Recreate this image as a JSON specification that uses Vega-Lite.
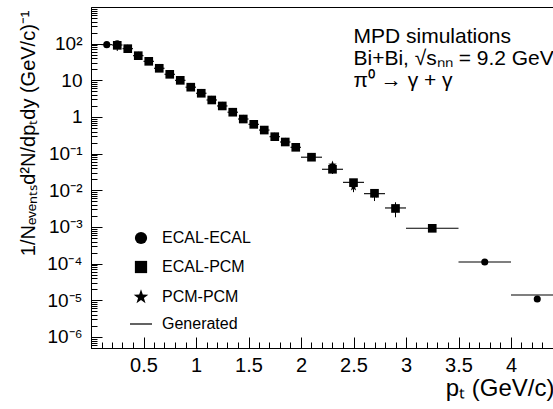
{
  "$schema": "https://vega.github.io/schema/vega-lite/v6.json",
  "autosize": {"type": "none"},
  "padding": {"left": 91, "top": 7, "right": 0, "bottom": 61},
  "width": 462,
  "height": 341,
  "background": "white",
  "datasets": {
    "gen": [
      {"lo": 0.1, "hi": 0.2, "v": 94}, {"lo": 0.2, "hi": 0.3, "v": 92}, {"lo": 0.3, "hi": 0.4, "v": 73},
      {"lo": 0.4, "hi": 0.5, "v": 47}, {"lo": 0.5, "hi": 0.6, "v": 33}, {"lo": 0.6, "hi": 0.7, "v": 21.3},
      {"lo": 0.7, "hi": 0.8, "v": 14.6}, {"lo": 0.8, "hi": 0.9, "v": 10.0}, {"lo": 0.9, "hi": 1.0, "v": 6.5},
      {"lo": 1.0, "hi": 1.1, "v": 4.44}, {"lo": 1.1, "hi": 1.2, "v": 2.91}, {"lo": 1.2, "hi": 1.3, "v": 2.0},
      {"lo": 1.3, "hi": 1.4, "v": 1.35}, {"lo": 1.4, "hi": 1.5, "v": 0.88}, {"lo": 1.5, "hi": 1.6, "v": 0.63},
      {"lo": 1.6, "hi": 1.7, "v": 0.44}, {"lo": 1.7, "hi": 1.8, "v": 0.29}, {"lo": 1.8, "hi": 1.9, "v": 0.208},
      {"lo": 1.9, "hi": 2.0, "v": 0.149}, {"lo": 2.0, "hi": 2.2, "v": 0.080}, {"lo": 2.2, "hi": 2.4, "v": 0.0375},
      {"lo": 2.4, "hi": 2.6, "v": 0.0165}, {"lo": 2.6, "hi": 2.8, "v": 0.0081}, {"lo": 2.8, "hi": 3.0, "v": 0.0033},
      {"lo": 3.0, "hi": 3.5, "v": 0.00092}, {"lo": 3.5, "hi": 4.0, "v": 0.000111}, {"lo": 4.0, "hi": 4.5, "v": 0.000014}
    ],
    "errs": [
      {"pt": 0.25, "lo": 63, "hi": 113}, {"pt": 0.35, "lo": 66, "hi": 80}, {"pt": 0.45, "lo": 43, "hi": 52},
      {"pt": 0.55, "lo": 30, "hi": 36.5}, {"pt": 0.65, "lo": 19.3, "hi": 23.5}, {"pt": 0.75, "lo": 13.2, "hi": 16.1},
      {"pt": 0.85, "lo": 9.0, "hi": 11.1}, {"pt": 0.95, "lo": 5.9, "hi": 7.2}, {"pt": 1.05, "lo": 4.0, "hi": 4.9},
      {"pt": 1.15, "lo": 2.63, "hi": 3.2}, {"pt": 1.25, "lo": 1.8, "hi": 2.2}, {"pt": 1.35, "lo": 1.22, "hi": 1.49},
      {"pt": 1.45, "lo": 0.79, "hi": 0.97}, {"pt": 1.55, "lo": 0.57, "hi": 0.7}, {"pt": 1.65, "lo": 0.40, "hi": 0.49},
      {"pt": 1.75, "lo": 0.26, "hi": 0.32}, {"pt": 1.85, "lo": 0.186, "hi": 0.23}, {"pt": 1.95, "lo": 0.134, "hi": 0.165},
      {"pt": 2.1, "lo": 0.068, "hi": 0.092}, {"pt": 2.3, "lo": 0.0279, "hi": 0.0543}, {"pt": 2.5, "lo": 0.0089, "hi": 0.0185},
      {"pt": 2.7, "lo": 0.0051, "hi": 0.0095}, {"pt": 2.9, "lo": 0.00184, "hi": 0.00472}, {"pt": 3.25, "lo": 0.00083, "hi": 0.00101}
    ],
    "pts": [
      {"series": "ECAL-ECAL", "pt": 0.15, "v": 94}, {"series": "ECAL-ECAL", "pt": 0.25, "v": 99},
      {"series": "ECAL-ECAL", "pt": 0.35, "v": 73}, {"series": "ECAL-ECAL", "pt": 0.45, "v": 47},
      {"series": "ECAL-ECAL", "pt": 0.55, "v": 33}, {"series": "ECAL-ECAL", "pt": 0.65, "v": 21.3},
      {"series": "ECAL-ECAL", "pt": 0.75, "v": 14.6}, {"series": "ECAL-ECAL", "pt": 0.85, "v": 10.0},
      {"series": "ECAL-ECAL", "pt": 0.95, "v": 6.5}, {"series": "ECAL-ECAL", "pt": 1.05, "v": 4.44},
      {"series": "ECAL-ECAL", "pt": 1.15, "v": 2.91}, {"series": "ECAL-ECAL", "pt": 1.25, "v": 2.0},
      {"series": "ECAL-ECAL", "pt": 1.35, "v": 1.35}, {"series": "ECAL-ECAL", "pt": 1.45, "v": 0.88},
      {"series": "ECAL-ECAL", "pt": 1.55, "v": 0.63}, {"series": "ECAL-ECAL", "pt": 1.65, "v": 0.44},
      {"series": "ECAL-ECAL", "pt": 1.75, "v": 0.29}, {"series": "ECAL-ECAL", "pt": 1.85, "v": 0.208},
      {"series": "ECAL-ECAL", "pt": 1.95, "v": 0.149}, {"series": "ECAL-ECAL", "pt": 2.1, "v": 0.080},
      {"series": "ECAL-ECAL", "pt": 2.3, "v": 0.0375}, {"series": "ECAL-ECAL", "pt": 2.5, "v": 0.0162},
      {"series": "ECAL-ECAL", "pt": 2.7, "v": 0.0083}, {"series": "ECAL-ECAL", "pt": 2.9, "v": 0.0032},
      {"series": "ECAL-ECAL", "pt": 3.25, "v": 0.00092}, {"series": "ECAL-ECAL", "pt": 3.75, "v": 0.000111},
      {"series": "ECAL-ECAL", "pt": 4.25, "v": 0.0000109},
      {"series": "PCM-PCM", "pt": 0.35, "v": 73}, {"series": "PCM-PCM", "pt": 0.45, "v": 47},
      {"series": "PCM-PCM", "pt": 0.55, "v": 33}, {"series": "PCM-PCM", "pt": 0.65, "v": 21.3},
      {"series": "PCM-PCM", "pt": 0.75, "v": 14.6}, {"series": "PCM-PCM", "pt": 0.85, "v": 10.0},
      {"series": "PCM-PCM", "pt": 0.95, "v": 6.5}, {"series": "PCM-PCM", "pt": 1.05, "v": 4.44},
      {"series": "PCM-PCM", "pt": 1.15, "v": 2.91}, {"series": "PCM-PCM", "pt": 1.25, "v": 2.0},
      {"series": "PCM-PCM", "pt": 1.35, "v": 1.35}, {"series": "PCM-PCM", "pt": 1.45, "v": 0.88},
      {"series": "PCM-PCM", "pt": 1.55, "v": 0.63}, {"series": "PCM-PCM", "pt": 1.65, "v": 0.44},
      {"series": "PCM-PCM", "pt": 1.75, "v": 0.29}, {"series": "PCM-PCM", "pt": 1.85, "v": 0.208},
      {"series": "PCM-PCM", "pt": 1.95, "v": 0.149}, {"series": "PCM-PCM", "pt": 2.1, "v": 0.080},
      {"series": "PCM-PCM", "pt": 2.3, "v": 0.049}, {"series": "PCM-PCM", "pt": 2.5, "v": 0.0123},
      {"series": "PCM-PCM", "pt": 2.7, "v": 0.0078}, {"series": "PCM-PCM", "pt": 2.9, "v": 0.0032},
      {"series": "ECAL-PCM", "pt": 0.25, "v": 90}, {"series": "ECAL-PCM", "pt": 0.35, "v": 73},
      {"series": "ECAL-PCM", "pt": 0.45, "v": 47}, {"series": "ECAL-PCM", "pt": 0.55, "v": 33},
      {"series": "ECAL-PCM", "pt": 0.65, "v": 21.3}, {"series": "ECAL-PCM", "pt": 0.75, "v": 14.6},
      {"series": "ECAL-PCM", "pt": 0.85, "v": 10.0}, {"series": "ECAL-PCM", "pt": 0.95, "v": 6.5},
      {"series": "ECAL-PCM", "pt": 1.05, "v": 4.44}, {"series": "ECAL-PCM", "pt": 1.15, "v": 2.91},
      {"series": "ECAL-PCM", "pt": 1.25, "v": 2.0}, {"series": "ECAL-PCM", "pt": 1.35, "v": 1.35},
      {"series": "ECAL-PCM", "pt": 1.45, "v": 0.88}, {"series": "ECAL-PCM", "pt": 1.55, "v": 0.63},
      {"series": "ECAL-PCM", "pt": 1.65, "v": 0.44}, {"series": "ECAL-PCM", "pt": 1.75, "v": 0.29},
      {"series": "ECAL-PCM", "pt": 1.85, "v": 0.208}, {"series": "ECAL-PCM", "pt": 1.95, "v": 0.149},
      {"series": "ECAL-PCM", "pt": 2.1, "v": 0.080}, {"series": "ECAL-PCM", "pt": 2.3, "v": 0.0375},
      {"series": "ECAL-PCM", "pt": 2.5, "v": 0.0162}, {"series": "ECAL-PCM", "pt": 2.7, "v": 0.0083},
      {"series": "ECAL-PCM", "pt": 2.9, "v": 0.0032}, {"series": "ECAL-PCM", "pt": 3.25, "v": 0.00092}
    ],
    "notes": [
      {"text": ["MPD simulations", "Bi+Bi, √sₙₙ = 9.2 GeV", "π⁰ → γ + γ"]}
    ]
  },
  "layer": [
    {
      "data": {"name": "gen"},
      "mark": {"type": "rule", "color": "black", "strokeWidth": 1.1, "clip": true},
      "encoding": {
        "x": {"field": "lo", "type": "quantitative",
              "scale": {"domain": [0, 4.4], "nice": false, "zero": false},
              "axis": {"orient": "bottom", "title": null, "labels": false, "tickSize": -6,
                       "values": [0.1,0.2,0.3,0.4,0.6,0.7,0.8,0.9,1.1,1.2,1.3,1.4,1.6,1.7,1.8,1.9,2.1,2.2,2.3,2.4,2.6,2.7,2.8,2.9,3.1,3.2,3.3,3.4,3.6,3.7,3.8,3.9,4.1,4.2,4.3,4.4]}},
        "x2": {"field": "hi"},
        "y": {"field": "v", "type": "quantitative",
              "scale": {"type": "log", "domain": [5e-7, 1000], "nice": false},
              "axis": {"orient": "left", "title": null, "labels": false, "tickSize": -6,
                       "values": [5e-7,6e-7,7e-7,8e-7,9e-7,2e-6,3e-6,4e-6,5e-6,6e-6,7e-6,8e-6,9e-6,2e-5,3e-5,4e-5,5e-5,6e-5,7e-5,8e-5,9e-5,2e-4,3e-4,4e-4,5e-4,6e-4,7e-4,8e-4,9e-4,2e-3,3e-3,4e-3,5e-3,6e-3,7e-3,8e-3,9e-3,0.02,0.03,0.04,0.05,0.06,0.07,0.08,0.09,0.2,0.3,0.4,0.5,0.6,0.7,0.8,0.9,2,3,4,5,6,7,8,9,20,30,40,50,60,70,80,90,200,300,400,500,600,700,800,900]}}
      }
    },
    {
      "data": {"name": "errs"},
      "mark": {"type": "rule", "color": "black", "strokeWidth": 1},
      "encoding": {
        "x": {"field": "pt", "type": "quantitative",
              "scale": {"domain": [0, 4.4], "nice": false, "zero": false},
              "axis": {"orient": "bottom", "values": [0.5,1,1.5,2,2.5,3,3.5,4], "format": "~g",
                       "tickSize": -11, "labelPadding": 18, "labelFontSize": 20, "labelFlush": false, "labelOverlap": false,
                       "title": "pₜ (GeV/c)", "titleFontSize": 24, "titleAlign": "right", "titleAnchor": "end",
                       "titleX": 463, "titleY": 47, "titleBaseline": "alphabetic"}},
        "y": {"field": "lo", "type": "quantitative",
              "scale": {"type": "log", "domain": [5e-7, 1000], "nice": false},
              "axis": {"orient": "left", "values": [1e-6,1e-5,1e-4,1e-3,1e-2,0.1,1,10,100],
                       "tickSize": -11, "labelPadding": 20, "labelFontSize": 19, "labelOverlap": false, "labelFlush": false,
                       "labelExpr": "datum.value < 2e-6 ? '10⁻⁶' : datum.value < 2e-5 ? '10⁻⁵' : datum.value < 2e-4 ? '10⁻⁴' : datum.value < 2e-3 ? '10⁻³' : datum.value < 2e-2 ? '10⁻²' : datum.value < 0.2 ? '10⁻¹' : datum.value < 2 ? '1' : datum.value < 20 ? '10' : '10²'",
                       "title": "1/Nₑᵥₑₙₜₛd²N/dpₜdy (GeV/c)⁻¹", "titleFontSize": 20, "titleAngle": -90,
                       "titleAlign": "right", "titleBaseline": "alphabetic", "titleX": -57, "titleY": 3}},
        "y2": {"field": "hi"}
      }
    },
    {
      "data": {"name": "pts"},
      "mark": {"type": "point", "filled": true, "color": "black", "opacity": 1},
      "encoding": {
        "x": {"field": "pt", "type": "quantitative",
              "axis": {"orient": "top", "ticks": false, "labels": false, "title": null, "domain": true}},
        "y": {"field": "v", "type": "quantitative", "axis": null},
        "shape": {"field": "series", "type": "nominal",
                  "scale": {"domain": ["ECAL-ECAL", "ECAL-PCM", "PCM-PCM", "Generated"],
                            "range": ["circle", "square", "M0,-1.25L0.294,-0.405L1.189,-0.386L0.475,0.155L0.735,1.011L0,0.5L-0.735,1.011L-0.475,0.155L-1.189,-0.386L-0.294,-0.405Z", "M-1.8,-0.1L1.8,-0.1L1.8,0.1L-1.8,0.1Z"]},
                  "legend": {"title": null, "orient": "none", "legendX": 42, "legendY": 223, "padding": 0,
                             "symbolSize": 150, "symbolFillColor": "black",
                             "labelFontSize": 16, "labelOffset": 13, "rowPadding": 9, "labelColor": "black", "labelFont": "Liberation Sans"}},
        "size": {"condition": {"test": "datum.series === 'ECAL-PCM'", "value": 75}, "value": 50}
      }
    },
    {
      "data": {"name": "notes"},
      "mark": {"type": "text", "align": "left", "baseline": "top", "fontSize": 21, "lineHeight": 22, "color": "black", "font": "Liberation Sans"},
      "encoding": {
        "x": {"datum": 2.5, "type": "quantitative", "axis": null},
        "y": {"datum": 300, "type": "quantitative", "axis": null},
        "text": {"field": "text"}
      }
    }
  ],
  "resolve": {"axis": {"x": "independent", "y": "independent"}},
  "config": {
    "font": "Liberation Sans",
    "view": {"stroke": null},
    "axis": {"domainColor": "black", "tickColor": "black", "labelColor": "black", "titleColor": "black",
             "labelFont": "Liberation Sans", "titleFont": "Liberation Sans", "titleFontWeight": "normal",
             "grid": false, "domainWidth": 1, "tickWidth": 1}
  }
}
